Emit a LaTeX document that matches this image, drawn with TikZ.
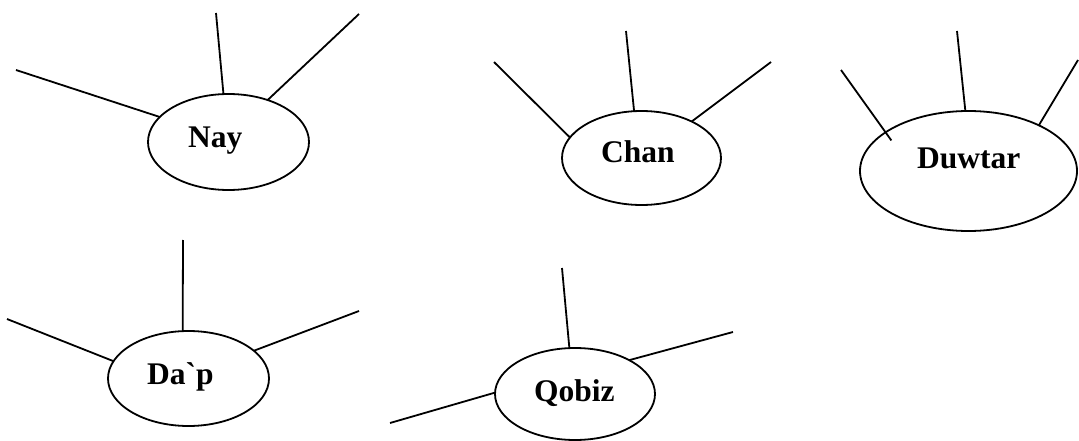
\documentclass[tikz,border=0pt]{standalone}
\usepackage{fontspec}
\newfontfamily\tnr{Liberation Serif}
\usetikzlibrary{shapes.geometric}
\tikzset{
  oval/.style={draw, ellipse, line width=1.8pt, inner sep=0pt, outer sep=0pt},
  word/.style={anchor=base west, inner sep=0pt, font=\tnr\bfseries\fontsize{31.5}{36}\selectfont},
  spoke/.style={line width=1.8pt}
}
\begin{document}
\begin{tikzpicture}[x=1pt,y=-1pt]
\useasboundingbox (0,0) rectangle (1079,441);
% ellipses
\node[oval, minimum width=161pt, minimum height=96pt] (nay) at (228.5,142) {};
\node[oval, minimum width=159pt, minimum height=94pt] (chan) at (641.5,158) {};
\node[oval, minimum width=217pt, minimum height=120pt] (duwtar) at (968.5,171) {};
\node[oval, minimum width=161pt, minimum height=95pt] (dap) at (188.5,378.5) {};
\node[oval, minimum width=160pt, minimum height=92pt] (qobiz) at (575,394) {};
% labels
\node[word] (nayt) at (188,147) {Nay};
\node[word] (chant) at (601,162) {Chan};
\node[word] (duwtart) at (917,168) {Duwtar};
\node[word] (dapt) at (147,384) {Da`p};
\node[word] (qobizt) at (534,401) {Qobiz};
% free ends
\coordinate (n1) at (16,70);
\coordinate (n2) at (216,13);
\coordinate (n3) at (359,14);
\coordinate (c1) at (494,62);
\coordinate (c2) at (626,31);
\coordinate (c3) at (771,62);
\coordinate (d1) at (841,70);
\coordinate (d2) at (957,31);
\coordinate (d3) at (1078,60);
\coordinate (p1) at (7,319);
\coordinate (p2) at (183,240);
\coordinate (p3) at (359,311);
\coordinate (q1) at (390,423);
\coordinate (q2) at (562,268);
\coordinate (q3) at (733,332);
% spokes
\draw[spoke] (n1) -- (nay.160);
\draw[spoke] (n2) -- (nay.96);
\draw[spoke] (n3) -- (nay.47);
\draw[spoke] (c1) -- (chan.164);
\draw[spoke] (c2) -- (chan.99);
\draw[spoke] (c3) -- (chan.36);
\draw[spoke, shorten >=-10pt] (d1) -- (duwtar.155);
\draw[spoke] (d2) -- (duwtar.93);
\draw[spoke] (d3) -- (duwtar.33);
\draw[spoke] (p1) -- (dap.167);
\draw[spoke] (p2) -- (dap.97);
\draw[spoke] (p3) -- (dap.23);
\draw[spoke] (q1) -- (qobiz.179);
\draw[spoke] (q2) -- (qobiz.97);
\draw[spoke] (q3) -- (qobiz.32);
\end{tikzpicture}
\end{document}
